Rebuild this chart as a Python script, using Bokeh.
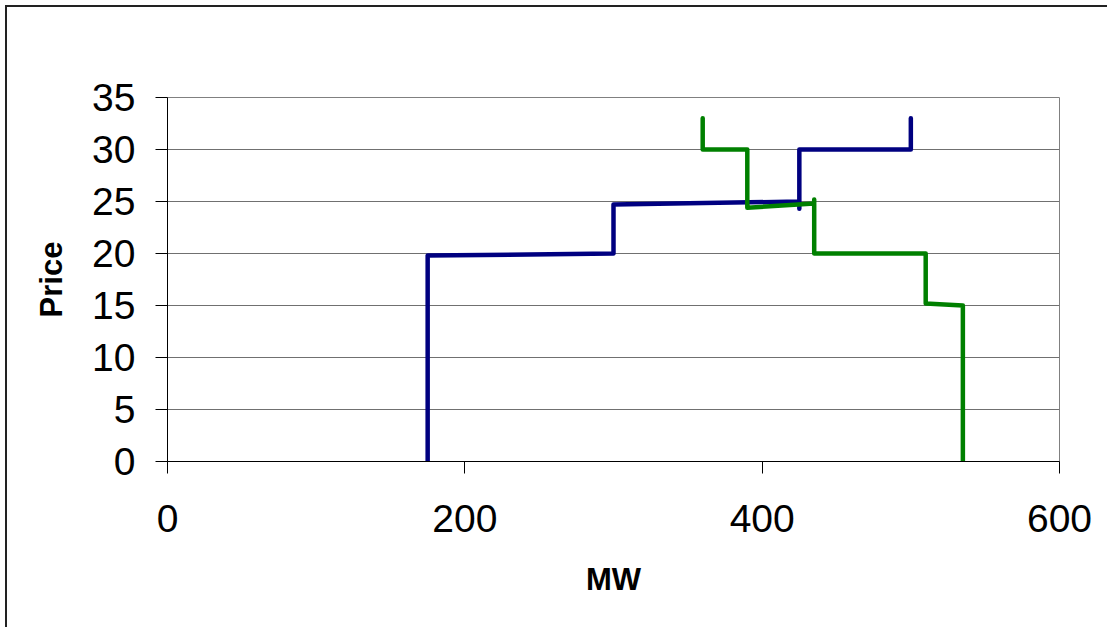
from bokeh.plotting import figure
from bokeh.models import Range1d, FixedTicker
from bokeh.embed import file_html
from bokeh.resources import INLINE

# Data
blue_mw = [175, 175, 300, 300, 425, 425, 425, 500, 500]
blue_price = [0, 19.8, 20, 24.7, 25, 24.3, 30, 30, 33]

green_mw = [360, 360, 390, 390, 435, 435, 435, 510, 510, 535, 535]
green_price = [33, 30, 30, 24.4, 24.8, 25.2, 20, 20, 15.2, 15, 0]

x_ticks = [0, 200, 400, 600]
y_ticks = [0, 5, 10, 15, 20, 25, 30, 35]

FONT = "Liberation Sans"

p = figure(width=1102, height=622, output_backend="svg", toolbar_location=None,
           x_range=Range1d(0, 600), y_range=Range1d(0, 35),
           min_border_left=160, min_border_right=50, min_border_top=90, min_border_bottom=168)
p.margin = (5, 0, 0, 5)
p.styles = {"border-left": "2px solid #222", "border-top": "2px solid #222"}

p.background_fill_color = "white"
p.border_fill_color = "white"
p.outline_line_color = "#808080"
p.outline_line_width = 1

p.xgrid.visible = False
p.ygrid.grid_line_color = "#707070"
p.ygrid.grid_line_width = 1
p.ygrid.ticker = FixedTicker(ticks=y_ticks)

p.xaxis.ticker = FixedTicker(ticks=x_ticks)
p.yaxis.ticker = FixedTicker(ticks=y_ticks)

for ax in (p.xaxis[0], p.yaxis[0]):
    ax.axis_line_color = "black"
    ax.axis_line_width = 1
    ax.major_tick_line_color = "black"
    ax.major_tick_in = 0
    ax.major_tick_out = 12
    ax.minor_tick_line_color = None
    ax.major_label_text_font = FONT
    ax.major_label_text_font_size = "39px"
    ax.major_label_text_color = "black"
    ax.axis_label_text_font = FONT
    ax.axis_label_text_font_size = "31px"
    ax.axis_label_text_font_style = "bold"
    ax.axis_label_text_color = "black"

p.xaxis.axis_label = "MW"
p.yaxis.axis_label = "Price"
p.xaxis.major_label_standoff = 31
p.yaxis.major_label_standoff = 20
p.xaxis.axis_label_standoff = 27
p.yaxis.axis_label_standoff = 20

p.line(blue_mw, blue_price, line_color="#000080", line_width=4.5,
       line_join="round", line_cap="round")
p.line(green_mw, green_price, line_color="#008000", line_width=4.5,
       line_join="round", line_cap="round")

open("out.html", "w").write(file_html(p, INLINE))
